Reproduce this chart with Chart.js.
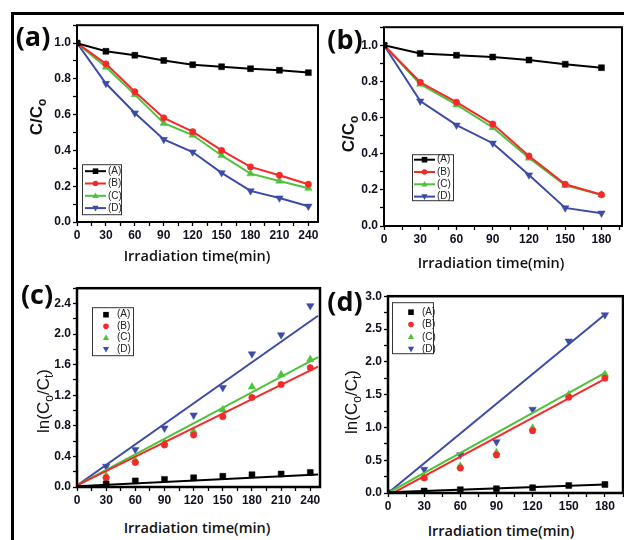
<!DOCTYPE html>
<html>
<head>
<meta charset="utf-8">
<script src="https://cdn.jsdelivr.net/npm/chart.js@4.4.0/dist/chart.umd.min.js"></script>
<style>
  body { margin: 0; background: #fff; width: 624px; height: 540px; overflow: hidden; position: relative; }
  .frame { position: absolute; left: 11px; top: 12px; width: 640px; height: 560px; border-top: 3px solid #000; border-left: 3px solid #000; }
  canvas { position: absolute; }
  .txt { position: absolute; transform: translate(-50%, -50%); white-space: nowrap; color: #111; }
  .xt { font-family: "Open Sans", sans-serif; font-weight: 600; font-size: 14.5px; }
  .yt { font-family: "Liberation Sans", Arial, sans-serif; font-size: 17px; transform: translate(-50%, -50%) rotate(-90deg); }
  .yt sub { font-size: 12px; vertical-align: -4px; }
  .lab { font-family: "Open Sans", sans-serif; font-weight: 700; font-size: 27px; color: #0a0a0a; }
</style>
</head>
<body>
<div class="frame"></div>

<canvas id="chartA"></canvas>
<canvas id="chartB"></canvas>
<canvas id="chartC"></canvas>
<canvas id="chartD"></canvas>

<div class="txt lab" style="left:33px;top:35px">(a)</div>
<div class="txt lab" style="left:345px;top:38px">(b)</div>
<div class="txt lab" style="left:37px;top:293px">(c)</div>
<div class="txt lab" style="left:345px;top:300px">(d)</div>

<div class="txt xt" style="left:197px;top:255px">Irradiation time(min)</div>
<div class="txt xt" style="left:491px;top:262px">Irradiation time(min)</div>
<div class="txt xt" style="left:197px;top:527px">Irradiation time(min)</div>
<div class="txt xt" style="left:501px;top:530px">Irradiation time(min)</div>

<div class="txt yt" style="left:38px;top:117px;font-weight:bold">C/C<sub>o</sub></div>
<div class="txt yt" style="left:350px;top:134px;font-weight:bold">C/C<sub>o</sub></div>
<div class="txt yt" style="left:45px;top:401px">ln(C<sub>o</sub>/C<sub>t</sub>)</div>
<div class="txt yt" style="left:353px;top:402px">ln(C<sub>o</sub>/C<sub>t</sub>)</div>

<script>
// time axes
const time240 = [0, 30, 60, 90, 120, 150, 180, 210, 240];
const time180 = [0, 30, 60, 90, 120, 150, 180];

// (a) C/Co, 240 min
const a_A = [1.0, 0.954, 0.932, 0.903, 0.879, 0.868, 0.857, 0.848, 0.835];
const a_B = [1.0, 0.884, 0.728, 0.582, 0.505, 0.400, 0.308, 0.261, 0.211];
const a_C = [1.0, 0.866, 0.712, 0.552, 0.486, 0.372, 0.270, 0.229, 0.189];
const a_D = [1.0, 0.774, 0.609, 0.461, 0.391, 0.275, 0.174, 0.134, 0.088];

// (b) C/Co, 180 min
const b_A = [1.0, 0.955, 0.945, 0.935, 0.918, 0.895, 0.876];
const b_B = [1.0, 0.795, 0.685, 0.564, 0.387, 0.231, 0.173];
const b_C = [1.0, 0.785, 0.671, 0.545, 0.376, 0.225, 0.173];
const b_D = [1.0, 0.691, 0.558, 0.458, 0.282, 0.100, 0.071];

// (c) ln(Co/Ct), 240 min, points + fitted lines
const c_A = [0, 0.04, 0.08, 0.10, 0.12, 0.14, 0.16, 0.17, 0.19];
const c_B = [0, 0.12, 0.32, 0.55, 0.68, 0.92, 1.17, 1.34, 1.56];
const c_C = [0, 0.15, 0.35, 0.58, 0.73, 1.01, 1.31, 1.47, 1.67];
const c_D = [0, 0.27, 0.49, 0.77, 0.94, 1.30, 1.74, 1.99, 2.37];
const fitX_c = [0, 248];
const fitC_A = [0.01, 0.165];
const fitC_B = [0.02, 1.575];
const fitC_C = [0.02, 1.70];
const fitC_D = [0.02, 2.24];

// (d) ln(Co/Ct), 180 min, points + fitted lines
const d_A = [0, 0.03, 0.05, 0.065, 0.08, 0.115, 0.13];
const d_B = [0, 0.23, 0.38, 0.58, 0.95, 1.46, 1.75];
const d_C = [0, 0.24, 0.41, 0.615, 0.99, 1.50, 1.81];
const d_D = [0, 0.36, 0.58, 0.78, 1.275, 2.315, 2.715];
const fitX_d = [0, 180];
const fitD_A = [0.01, 0.13];
const fitD_B = [-0.04, 1.74];
const fitD_C = [0.0, 1.83];
const fitD_D = [0.0, 2.72];

const names = ['(A)', '(B)', '(C)', '(D)'];
const colors = ['#000000', '#f42a2a', '#4fc23c', '#3b4ba6'];
const styles = ['rect', 'circle', 'triangle', 'triangle'];
const rotations = [0, 0, 0, 180];
const radii = [4.2, 3.2, 4.3, 4.3];

function pts(xs, ys) {
    return xs.map((x, i) => ({ x: x, y: ys[i] }));
}

function drawMarker(ctx, i, x, y, s) {
    ctx.fillStyle = colors[i];
    ctx.beginPath();
    if (styles[i] === 'rect') {
        ctx.rect(x - s, y - s, 2 * s, 2 * s);
    } else if (styles[i] === 'circle') {
        ctx.arc(x, y, s, 0, Math.PI * 2);
    } else if (rotations[i] === 0) {
        ctx.moveTo(x, y - s * 1.2);
        ctx.lineTo(x + s * 1.1, y + s * 0.8);
        ctx.lineTo(x - s * 1.1, y + s * 0.8);
    } else {
        ctx.moveTo(x, y + s * 1.2);
        ctx.lineTo(x + s * 1.1, y - s * 0.8);
        ctx.lineTo(x - s * 1.1, y - s * 0.8);
    }
    ctx.closePath();
    ctx.fill();
}

// plot frame + legend box inside the chart area
const framePlugin = {
    id: 'framePlugin',
    afterDraw(chart, args, o) {
        const ctx = chart.ctx;
        const a = chart.chartArea;
        ctx.save();
        ctx.lineWidth = o.width;
        ctx.strokeStyle = '#000';
        ctx.strokeRect(a.left, a.top, a.right - a.left, a.bottom - a.top);

        const lg = o.legend;
        const x0 = a.left + lg.x, y0 = a.top + lg.y;
        ctx.lineWidth = 1;
        ctx.strokeStyle = '#333';
        ctx.strokeRect(x0 + 0.5, y0 + 0.5, lg.w, lg.h);
        ctx.font = '10px "Liberation Sans", Arial, sans-serif';
        ctx.textBaseline = 'middle';
        names.forEach((n, i) => {
            const y = y0 + lg.first + i * lg.row;
            if (lg.lines) {
                ctx.strokeStyle = colors[i];
                ctx.lineWidth = 2;
                ctx.beginPath();
                ctx.moveTo(x0 + lg.lineFrom, y);
                ctx.lineTo(x0 + lg.lineTo, y);
                ctx.stroke();
            }
            drawMarker(ctx, i, x0 + lg.mark, y, 2.8);
            ctx.fillStyle = '#222';
            ctx.fillText(n, x0 + lg.text, y);
        });
        ctx.restore();
    }
};

function makePanel(id, box, xMax, xMajor, yMax, yStep, yMajor, datasets, legend, frameW) {
    const padL = 44, padT = 6, padR = 8, padB = 24;
    const cv = document.getElementById(id);
    cv.width = box.R - box.L + padL + padR;
    cv.height = box.B - box.T + padT + padB;
    cv.style.left = (box.L - padL) + 'px';
    cv.style.top = (box.T - padT) + 'px';
    const tickFont = { family: '"Liberation Sans", Arial, sans-serif', size: 12, weight: 'bold' };
    new Chart(cv, {
        type: 'scatter',
        data: { datasets: datasets },
        options: {
            responsive: false,
            animation: false,
            layout: { padding: { left: 0, top: padT, right: padR, bottom: 0 } },
            plugins: {
                legend: { display: false },
                tooltip: { enabled: false },
                framePlugin: { width: frameW, legend: legend }
            },
            scales: {
                x: {
                    type: 'linear', min: 0, max: xMax,
                    afterFit: (s) => { s.height = padB; },
                    border: { display: false },
                    grid: { drawOnChartArea: false, drawTicks: true, tickLength: 4, tickColor: '#000', tickWidth: 1.3 },
                    ticks: {
                        stepSize: xMajor / 2, includeBounds: false, autoSkip: false, maxRotation: 0,
                        padding: 2, color: '#101020', font: tickFont,
                        callback: (v) => (v % xMajor === 0 ? String(v) : '')
                    }
                },
                y: {
                    type: 'linear', min: 0, max: yMax,
                    afterFit: (s) => { s.width = padL; },
                    border: { display: false },
                    grid: { drawOnChartArea: false, drawTicks: true, tickLength: 4, tickColor: '#000', tickWidth: 1.3 },
                    ticks: {
                        stepSize: yStep, includeBounds: false, autoSkip: false,
                        padding: 2, color: '#101020', font: tickFont,
                        callback: (v) => {
                            const k = Math.round(v / yStep);
                            return k % yMajor === 0 ? v.toFixed(1) : '';
                        }
                    }
                }
            }
        },
        plugins: [framePlugin]
    });
}

function curveSets(xs, series) {
    return series.map((ys, i) => ({
        label: names[i],
        data: pts(xs, ys),
        showLine: true,
        borderColor: colors[i],
        borderWidth: 2,
        backgroundColor: colors[i],
        pointBackgroundColor: colors[i],
        pointBorderColor: colors[i],
        pointBorderWidth: 0.5,
        pointStyle: styles[i],
        rotation: rotations[i],
        pointRadius: radii[i]
    }));
}

function fitSets(xs, series, fitX, fits) {
    const sets = [];
    fits.forEach((f, i) => {
        sets.push({
            label: names[i] + ' fit',
            data: pts(fitX, f),
            showLine: true,
            borderColor: colors[i],
            borderWidth: 2,
            pointRadius: 0
        });
    });
    series.forEach((ys, i) => {
        sets.push({
            label: names[i],
            data: pts(xs, ys),
            showLine: false,
            backgroundColor: colors[i],
            pointBackgroundColor: colors[i],
            pointBorderColor: colors[i],
            pointBorderWidth: 0.5,
            pointStyle: styles[i],
            rotation: rotations[i],
            pointRadius: radii[i]
        });
    });
    return sets;
}

makePanel('chartA', { L: 77, T: 22, R: 318, B: 222 }, 250, 30, 1.1, 0.1, 2,
    curveSets(time240, [a_A, a_B, a_C, a_D]),
    { x: 5, y: 139, w: 39, h: 50, first: 7, row: 12.3, lines: true, lineFrom: 3, lineTo: 24, mark: 13.5, text: 26 }, 2);

makePanel('chartB', { L: 384, T: 24, R: 622, B: 226 }, 197, 30, 1.1, 0.1, 2,
    curveSets(time180, [b_A, b_B, b_C, b_D]),
    { x: 28, y: 127, w: 41, h: 46, first: 5.5, row: 12.3, lines: true, lineFrom: 2, lineTo: 23, mark: 12.5, text: 25 }, 2);

makePanel('chartC', { L: 77, T: 285, R: 320, B: 487 }, 250, 30, 2.6, 0.2, 2,
    fitSets(time240, [c_A, c_B, c_C, c_D], fitX_c, [fitC_A, fitC_B, fitC_C, fitC_D]),
    { x: 15, y: 19, w: 41, h: 48, first: 7.5, row: 11.5, lines: false, mark: 14, text: 25 }, 2.5);

makePanel('chartD', { L: 388, T: 293, R: 623, B: 493 }, 195, 30, 3.0, 0.25, 2,
    fitSets(time180, [d_A, d_B, d_C, d_D], fitX_d, [fitD_A, fitD_B, fitD_C, fitD_D]),
    { x: 4, y: 6, w: 41, h: 51, first: 10, row: 12.3, lines: false, mark: 19, text: 30 }, 2.5);
</script>
</body>
</html>
